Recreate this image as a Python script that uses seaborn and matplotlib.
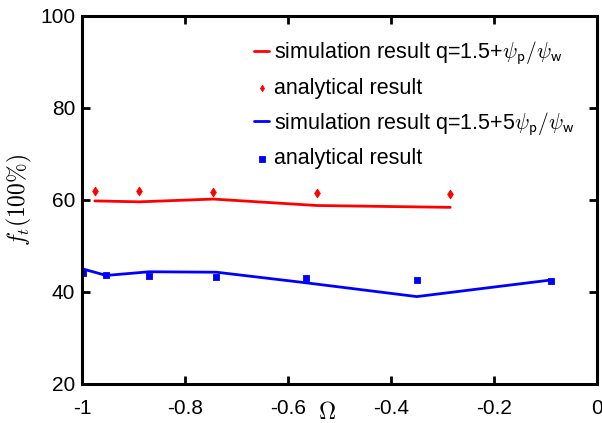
import matplotlib
matplotlib.use("Agg")
import matplotlib.pyplot as plt
import seaborn as sns
import pandas as pd

# data
red_sim_x = [-0.975, -0.889, -0.745, -0.544, -0.285]
red_sim_y = [59.8, 59.6, 60.2, 58.8, 58.4]
red_ana_x = [-0.975, -0.889, -0.745, -0.544, -0.285]
red_ana_y = [62.0, 61.9, 61.7, 61.5, 61.3]
blue_sim_x = [-0.998, -0.953, -0.869, -0.739, -0.565, -0.350, -0.090]
blue_sim_y = [45.0, 43.6, 44.4, 44.3, 42.0, 39.0, 42.6]
blue_ana_x = [-0.998, -0.953, -0.869, -0.739, -0.565, -0.350, -0.090]
blue_ana_y = [44.1, 43.7, 43.5, 43.2, 43.0, 42.7, 42.4]
xticks = [-1, -0.8, -0.6, -0.4, -0.2, 0]
xticklabels = ["-1", "-0.8", "-0.6", "-0.4", "-0.2", "0"]
yticks = [20, 40, 60, 80, 100]
labels = ["simulation result q=1.5+$\\psi_{\\mathsf{p}}/\\psi_{\\mathsf{w}}$",
          "analytical result",
          "simulation result q=1.5+5$\\psi_{\\mathsf{p}}/\\psi_{\\mathsf{w}}$",
          "analytical result"]

sns.set_style("ticks", {"axes.edgecolor": "black", "text.color": "black",
                        "xtick.color": "black", "ytick.color": "black",
                        "axes.labelcolor": "black"})
plt.rcParams["font.family"] = ["Liberation Sans", "DejaVu Sans"]
plt.rcParams["mathtext.fontset"] = "cm"

fig = plt.figure(figsize=(6.02, 4.23), dpi=100)
ax = fig.add_axes([0.1362, 0.0922, 0.8555, 0.870])

df_rs = pd.DataFrame({"x": red_sim_x, "y": red_sim_y})
df_ra = pd.DataFrame({"x": red_ana_x, "y": red_ana_y})
df_bs = pd.DataFrame({"x": blue_sim_x, "y": blue_sim_y})
df_ba = pd.DataFrame({"x": blue_ana_x, "y": blue_ana_y})

diamond = [(0, 1), (0.65, 0), (0, -1), (-0.65, 0), (0, 1)]

sns.lineplot(data=df_rs, x="x", y="y", color="#ff0000", linewidth=2.0, ax=ax, label=labels[0])
sns.scatterplot(data=df_ra, x="x", y="y", color="#ff0000", marker=diamond, s=40,
                edgecolor="#ff0000", linewidth=0.6, ax=ax, label=labels[1])
sns.lineplot(data=df_bs, x="x", y="y", color="#0000ff", linewidth=2.0, ax=ax, label=labels[2])
sns.scatterplot(data=df_ba, x="x", y="y", color="#0000ff", marker="s", s=18, edgecolor="#0000ff",
                linewidth=0.6, ax=ax, label=labels[3])

ax.set_xlim(-1, 0)
ax.set_ylim(20, 100)
ax.set_xticks(xticks)
ax.set_xticklabels(xticklabels)
ax.set_yticks(yticks)
ax.tick_params(direction="in", length=6, width=2, labelsize=15, top=True, right=True,
               labeltop=False, labelright=False, pad=5, colors="black")
ax.tick_params(axis="x", pad=11)
for sp in ax.spines.values():
    sp.set_linewidth(2.2)
    sp.set_color("black")
    sp.set_visible(True)

ax.set_xlabel("$\\Omega$", fontsize=17, color="black")
ax.xaxis.set_label_coords(0.476, -0.048)
ax.set_ylabel("$f_t(100\\%)$", fontsize=17, labelpad=4, color="black")

leg = ax.legend(loc="upper left", bbox_to_anchor=(0.318, 0.96), frameon=False, fontsize=15.5,
                handlelength=0.7, handletextpad=0.2, labelspacing=0.5, borderaxespad=0)
for t in leg.get_texts():
    t.set_color("black")
for h in leg.legend_handles:
    try:
        h.set_sizes([20])
    except Exception:
        pass

fig.savefig("out.png", dpi=100)
